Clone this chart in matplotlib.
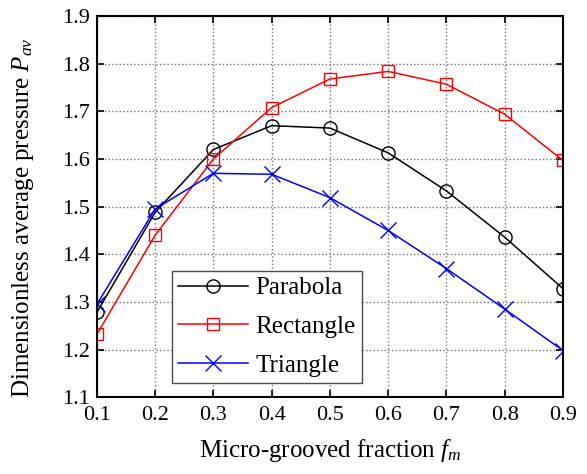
import numpy as np
import matplotlib
matplotlib.use('Agg')
import matplotlib.pyplot as plt

plt.rcParams['font.family'] = 'Liberation Serif'
plt.rcParams['mathtext.fontset'] = 'custom'
plt.rcParams['mathtext.rm'] = 'Liberation Serif'
plt.rcParams['mathtext.it'] = 'Liberation Serif:italic'

# data
fm = [0.1, 0.2, 0.3, 0.4, 0.5, 0.6, 0.7, 0.8, 0.9]
parabola = [1.278, 1.488, 1.620, 1.670, 1.665, 1.613, 1.533, 1.436, 1.328]
rectangle = [1.232, 1.440, 1.600, 1.708, 1.768, 1.784, 1.757, 1.694, 1.597]
triangle = [1.295, 1.495, 1.570, 1.568, 1.519, 1.450, 1.370, 1.285, 1.198]

fig = plt.figure(figsize=(5.87, 4.74), dpi=100)
ax = fig.add_axes([0.165, 0.162, 0.794, 0.804])

ax.plot(fm, parabola, '-o', color='k', lw=1.1, ms=9.5, mfc='none', mew=1.0, label='Parabola')
ax.plot(fm, rectangle, '-s', color='r', lw=1.1, ms=9, mfc='none', mew=1.0, label='Rectangle')
ax.plot(fm, triangle, '-x', color='b', lw=1.1, ms=12, mew=1.0, label='Triangle')

ax.set_xlim(0.1, 0.9)
ax.set_ylim(1.1, 1.9)
ax.set_xticks(fm)
ax.set_yticks(np.arange(1.1, 1.91, 0.1))
ax.set_xticklabels(['%.1f' % v for v in fm])
ax.set_yticklabels(['%.1f' % v for v in np.arange(1.1, 1.91, 0.1)])
ax.tick_params(direction='in', top=True, right=True, length=5, width=1.2, labelsize=16)
ax.tick_params(axis='x', pad=6)
ax.tick_params(axis='y', pad=5)
for s in ax.spines.values():
    s.set_linewidth(1.5)
ax.grid(True, ls=':', color='0.45', lw=1.0)

ax.set_xlabel('Micro-grooved fraction $f_m$', fontsize=18)
ax.set_ylabel('Dimensionless average pressure $P_{av}$', fontsize=18)
ax.xaxis.set_label_coords(0.5, -0.105)
ax.yaxis.set_label_coords(-0.13, 0.47)

leg = ax.legend(loc='lower left', bbox_to_anchor=(0.161, 0.037), fontsize=18,
                fancybox=False, edgecolor='0.3', framealpha=1, handlelength=2.8,
                borderpad=0.25, labelspacing=0.65, handletextpad=0.3,
                borderaxespad=0)
leg.get_frame().set_linewidth(1.0)

fig.savefig('out.png', dpi=100)
